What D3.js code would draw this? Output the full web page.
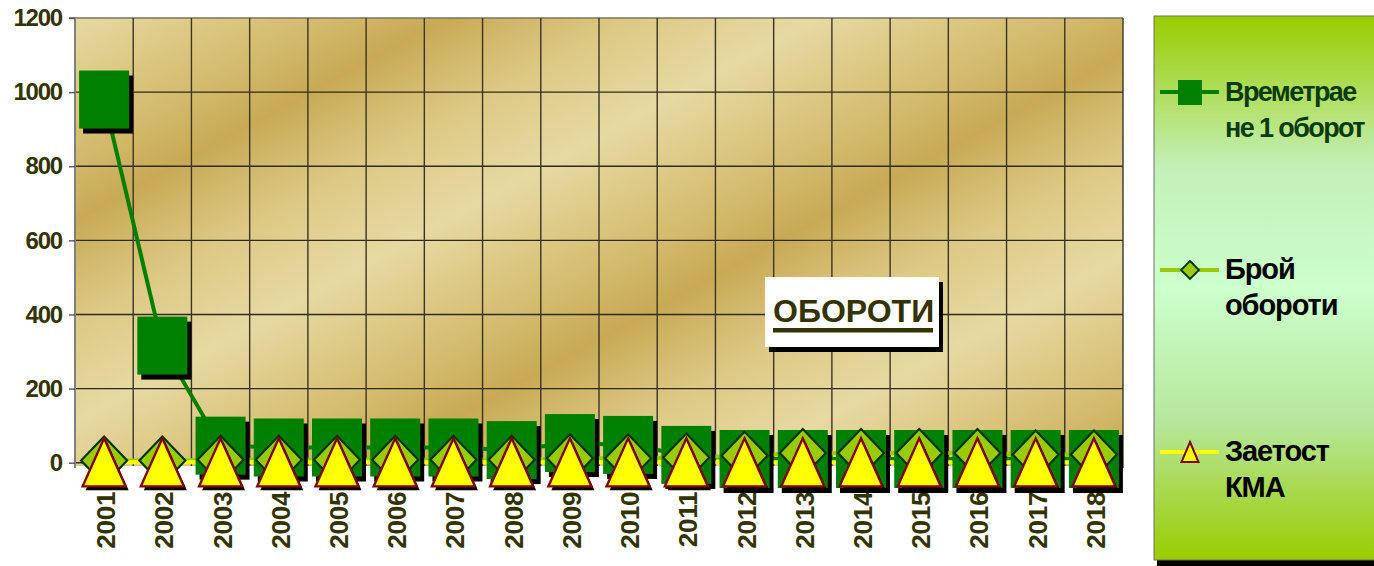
<!DOCTYPE html>
<html><head><meta charset="utf-8">
<script src="https://cdn.jsdelivr.net/npm/d3@7/dist/d3.min.js"></script>
<style>html,body{margin:0;padding:0;background:#fff;overflow:hidden}text{font-family:"Liberation Sans",Arial,sans-serif;font-weight:bold}</style>
</head><body><svg id="c" width="1374" height="566"></svg>
<script>
const categories = ['2001г','2002г','2003г','2004г','2005г','2006г','2007г','2008г','2009г','2010г','2011г','2012г','2013г','2014г','2015г','2016г','2017г','2018г'];
const yTicks = [0, 200, 400, 600, 800, 1000, 1200];
const timePerRev = [980, 316, 46, 41, 41, 41, 41, 34, 53, 48, 21, 10, 10, 10, 10, 10, 10, 10];
const revCount   = [6, 6, 8, 8, 8, 8, 8, 8, 12, 12, 14, 19, 26, 26, 26, 26, 22, 22];
const kmaLoad    = [1, 1, 1, 1, 1, 1, 1, 1, 1, 1, 1, 1, 1, 1, 1, 1, 1, 1];
const legendLines = [['Времетрае', 'не 1 оборот'], ['Брой', 'обороти'], ['Заетост', 'КМА']];
const titleText = 'ОБОРОТИ';

const svg = d3.select('#c');
const plot = {left: 75, right: 1123, top: 18, bottom: 462.7};
const x = d3.scaleBand().domain(categories).range([plot.left, plot.right]);
const y = d3.scaleLinear().domain([0, 1200]).range([plot.bottom, plot.top]);
const cx = (d) => x(d) + x.bandwidth() / 2;

const defs = svg.append('defs');
const gold = defs.append('linearGradient').attr('id', 'gold')
  .attr('gradientUnits', 'userSpaceOnUse').attr('x1', 75).attr('y1', 18).attr('x2', 245).attr('y2', 330)
  .attr('spreadMethod', 'repeat');
[[0, '#e6d9a2'], [0.25, '#d9c37a'], [0.5, '#c8aa55'], [0.75, '#ddc985'], [1, '#e6d9a2']]
  .forEach(([o, c]) => gold.append('stop').attr('offset', o).attr('stop-color', c));
const lg = defs.append('linearGradient').attr('id', 'leg').attr('x1', 0).attr('y1', 0).attr('x2', 0).attr('y2', 1);
[[0, '#99cc00'], [0.28, '#c4f0b8'], [0.5, '#ccffcc'], [0.75, '#b6e69a'], [1, '#99cc00']]
  .forEach(([o, c]) => lg.append('stop').attr('offset', o).attr('stop-color', c));

// plot background
svg.append('rect').attr('x', plot.left).attr('y', plot.top)
  .attr('width', plot.right - plot.left).attr('height', 466 - plot.top).attr('fill', 'url(#gold)');

// gridlines
svg.append('g').selectAll('line').data(yTicks).join('line')
  .attr('x1', plot.left).attr('x2', plot.right).attr('y1', d => y(d)).attr('y2', d => y(d))
  .attr('stroke', d => d === 1200 ? '#7a7460' : '#2e2a1a').attr('stroke-width', 1.4);
svg.append('g').selectAll('line').data(categories.slice(1)).join('line')
  .attr('x1', d => x(d)).attr('x2', d => x(d)).attr('y1', plot.top).attr('y2', 466)
  .attr('stroke', '#3a3524').attr('stroke-width', 1.4);
svg.append('line').attr('x1', plot.right).attr('x2', plot.right).attr('y1', plot.top).attr('y2', 468)
  .attr('stroke', '#3a3524').attr('stroke-width', 1.4);

// y axis
const yAxis = d3.axisLeft(y).tickValues(yTicks).tickFormat(d3.format('d')).tickSize(6).tickPadding(7);
const ya = svg.append('g').attr('transform', `translate(${plot.left},0)`).call(yAxis);
ya.select('.domain').attr('stroke', '#808080').attr('stroke-width', 2).attr('d', `M-6,${plot.top}H0V468`);
ya.selectAll('.tick line').attr('stroke', '#555').attr('stroke-width', 1.4);
ya.selectAll('.tick text').attr('fill', '#333300').attr('font-size', 24).attr('letter-spacing', -1.2)
  .attr('font-family', '"Liberation Sans",Arial,sans-serif').attr('font-weight', 'bold');

// lines
const line = (vals) => d3.line().x((d, i) => cx(categories[i])).y(d => y(d))(vals);
svg.append('path').attr('d', line(timePerRev)).attr('fill', 'none').attr('stroke', '#008000').attr('stroke-width', 4);
svg.append('path').attr('d', line(revCount)).attr('fill', 'none').attr('stroke', '#99cc00').attr('stroke-width', 4);
svg.append('path').attr('d', line(kmaLoad)).attr('fill', 'none').attr('stroke', '#ffff00').attr('stroke-width', 4);

// x labels
svg.append('g').selectAll('text').data(categories).join('text')
  .attr('transform', d => `translate(${cx(d) + 11},481) rotate(-90)`)
  .attr('text-anchor', 'end').attr('fill', '#333300').attr('font-size', 26).attr('letter-spacing', -0.2)
  .text(d => d);

// series 1 squares
const sq = svg.append('g');
sq.selectAll('rect.s').data(timePerRev).join('rect').attr('class', 's')
  .attr('x', (d, i) => cx(categories[i]) - 25 + 4).attr('y', d => y(d) - 29 + 5)
  .attr('width', 50).attr('height', 58).attr('fill', '#000');
sq.selectAll('rect.m').data(timePerRev).join('rect').attr('class', 'm')
  .attr('x', (d, i) => cx(categories[i]) - 25).attr('y', d => y(d) - 29)
  .attr('width', 50).attr('height', 58).attr('fill', '#008000');

// series 2 diamonds
const diamond = (px, py) => `M${px},${py - 24}L${px + 23},${py}L${px},${py + 24}L${px - 23},${py}Z`;
svg.append('g').selectAll('path').data(revCount).join('path')
  .attr('d', (d, i) => diamond(cx(categories[i]), y(d)))
  .attr('fill', '#99cc00').attr('stroke', '#003300').attr('stroke-width', 2.2);

// series 3 triangles
const tri = (px, py) => `M${px},${py - 24}L${px + 21.5},${py + 24}L${px - 21.5},${py + 24}Z`;
const tg = svg.append('g');
tg.selectAll('path.s').data(kmaLoad).join('path').attr('class', 's')
  .attr('d', (d, i) => tri(cx(categories[i]) + 3, y(d) + 4)).attr('fill', '#000');
tg.selectAll('path.m').data(kmaLoad).join('path').attr('class', 'm')
  .attr('d', (d, i) => tri(cx(categories[i]), y(d)))
  .attr('fill', '#ffff00').attr('stroke', '#800000').attr('stroke-width', 2.4).attr('stroke-linejoin', 'miter');

// title box
svg.append('rect').attr('x', 769).attr('y', 282).attr('width', 174).attr('height', 70).attr('fill', '#000');
svg.append('rect').attr('x', 765).attr('y', 277).attr('width', 174).attr('height', 70).attr('fill', '#fff');
svg.append('text').attr('x', 773).attr('y', 322).attr('fill', '#333300').attr('font-size', 32)
  .attr('letter-spacing', 0).text(titleText);
svg.append('rect').attr('x', 773).attr('y', 328).attr('width', 160).attr('height', 4.5).attr('fill', '#333300');

// legend
svg.append('rect').attr('x', 1157).attr('y', 20).attr('width', 230).attr('height', 546).attr('fill', '#000');
svg.append('rect').attr('x', 1154).attr('y', 16).attr('width', 230).attr('height', 544)
  .attr('fill', 'url(#leg)').attr('stroke', '#707070').attr('stroke-width', 1);
const legY = [92, 270, 452];
const legColors = ['#008000', '#99cc00', '#ffff00'];
const legText = ['#0b3b0b', '#000', '#000'];
const lgG = svg.append('g');
legY.forEach((ly, i) => {
  lgG.append('line').attr('x1', 1160).attr('x2', 1219).attr('y1', ly).attr('y2', ly)
    .attr('stroke', legColors[i]).attr('stroke-width', 4);
  const mx = 1190;
  if (i === 0) lgG.append('rect').attr('x', mx - 12).attr('y', ly - 12).attr('width', 24).attr('height', 25).attr('fill', '#008000');
  if (i === 1) lgG.append('path').attr('d', `M${mx},${ly - 9}L${mx + 9},${ly}L${mx},${ly + 9}L${mx - 9},${ly}Z`)
    .attr('fill', '#99cc00').attr('stroke', '#003300').attr('stroke-width', 1.8);
  if (i === 2) lgG.append('path').attr('d', `M${mx},${ly - 10}L${mx + 8.5},${ly + 10}L${mx - 8.5},${ly + 10}Z`)
    .attr('fill', '#ffff00').attr('stroke', '#800000').attr('stroke-width', 2);
  legendLines[i].forEach((t, k) => {
    lgG.append('text').attr('x', 1225).attr('y', ly + 9 + k * 36).attr('fill', legText[i])
      .attr('font-size', i === 0 ? 27 : 29).attr('letter-spacing', i === 0 ? -1.6 : -1.1).text(t);
  });
});
</script></body></html>
